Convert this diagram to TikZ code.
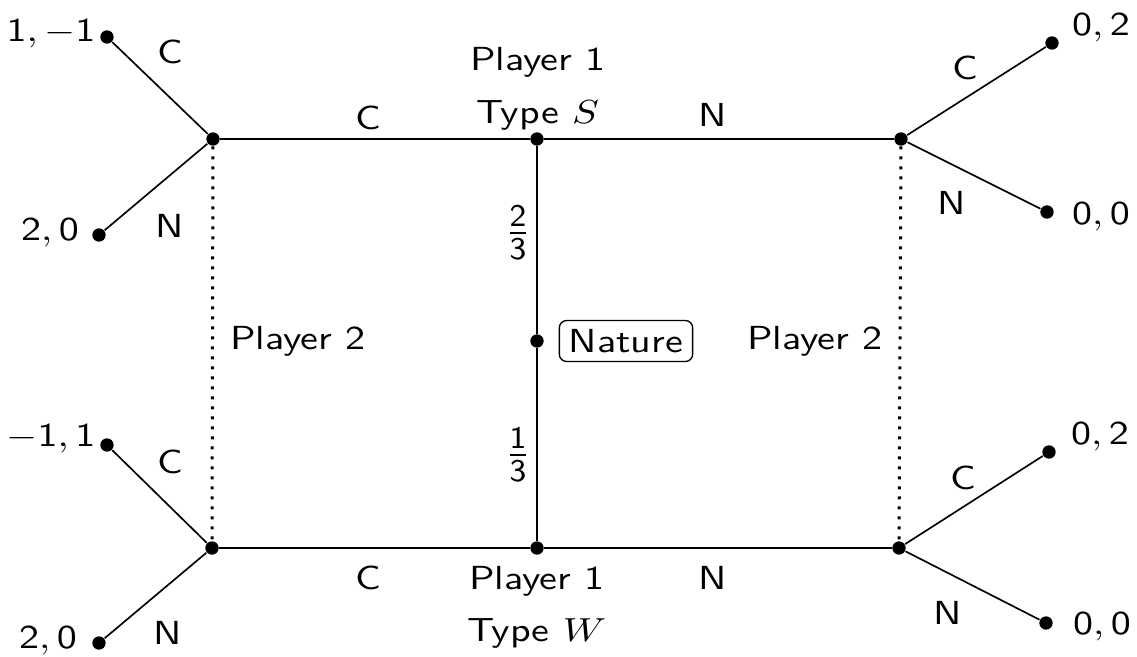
\documentclass[tikz,border=0pt]{standalone}
\begin{document}
\begin{tikzpicture}[x=0.3pt,y=-0.3pt,
  lbl/.style={font=\sffamily, inner sep=0pt, xscale=1.2},
  frc/.style={font=\sffamily, inner sep=0pt, scale=1.35},
  dotnode/.style={circle, fill=black, inner sep=0pt, minimum size=4pt},
  edge/.style={line width=0.5pt},
  info/.style={line width=0.9pt, dash pattern=on 0.9pt off 2.1pt}]
\useasboundingbox (0,0) rectangle (1137,656);
% decision nodes
\node[dotnode] (n) at (537,341) {};
\node[dotnode] (s) at (537,139) {};
\node[dotnode] (w) at (537,548) {};
\node[dotnode] (ls) at (213,139) {};
\node[dotnode] (lw) at (212,548) {};
\node[dotnode] (rs) at (901,139) {};
\node[dotnode] (rw) at (899,548) {};
% leaves
\node[dotnode] (a1) at (107,37) {};
\node[dotnode] (a2) at (99,235) {};
\node[dotnode] (b1) at (107,445) {};
\node[dotnode] (b2) at (99,643) {};
\node[dotnode] (c1) at (1052,43) {};
\node[dotnode] (c2) at (1047,212) {};
\node[dotnode] (d1) at (1049,452) {};
\node[dotnode] (d2) at (1046,623) {};
% edges
\draw[edge] (s) -- (n) -- (w);
\draw[edge] (ls) -- (s) -- (rs);
\draw[edge] (lw) -- (w) -- (rw);
\draw[edge] (a1) -- (ls) -- (a2);
\draw[edge] (b1) -- (lw) -- (b2);
\draw[edge] (c1) -- (rs) -- (c2);
\draw[edge] (d1) -- (rw) -- (d2);
\draw[info] (ls) -- (lw);
\draw[info] (rs) -- (rw);
% labels
\node[lbl, draw, rounded corners=2.2pt, inner xsep=2.4pt, minimum height=12.3pt] (nat) at (626,341) {Nature};
\node[lbl] (p1s) at (538,62) {Player 1};
\node[lbl] (ts) at (538,115) {Type $S$};
\node[lbl] (p1w) at (537,581) {Player 1};
\node[lbl] (tw) at (537,633) {Type $W$};
\node[lbl] (p2l) at (298,341) {Player 2};
\node[lbl] (p2r) at (815,341) {Player 2};
\node[frc] (f1) at (518,233) {$\frac{\mathsf{2}}{\mathsf{3}}$};
\node[frc] (f2) at (518,455) {$\frac{\mathsf{1}}{\mathsf{3}}$};
\node[lbl] (lc1) at (368,118) {C};
\node[lbl] (ln1) at (713,115) {N};
\node[lbl] (lc2) at (368,578) {C};
\node[lbl] (ln2) at (713,578) {N};
\node[lbl] (la1) at (170,52) {C};
\node[lbl] (la2) at (170,226) {N};
\node[lbl] (lb1) at (170,462) {C};
\node[lbl] (lb2) at (168,633) {N};
\node[lbl] (lc3) at (965,68) {C};
\node[lbl] (lc4) at (952,203) {N};
\node[lbl] (ld1) at (963,478) {C};
\node[lbl] (ld2) at (948,613) {N};
\node[lbl] (pa1) at (51,34) {$\mathsf{1},-\mathsf{1}$};
\node[lbl] (pa2) at (50,233) {$\mathsf{2},\mathsf{0}$};
\node[lbl] (pb1) at (51,439) {$-\mathsf{1},\mathsf{1}$};
\node[lbl] (pb2) at (48,641) {$\mathsf{2},\mathsf{0}$};
\node[lbl] (pc1) at (1101,28) {$\mathsf{0},\mathsf{2}$};
\node[lbl] (pc2) at (1101,217) {$\mathsf{0},\mathsf{0}$};
\node[lbl] (pd1) at (1100,437) {$\mathsf{0},\mathsf{2}$};
\node[lbl] (pd2) at (1102,627) {$\mathsf{0},\mathsf{0}$};
\end{tikzpicture}
\end{document}
